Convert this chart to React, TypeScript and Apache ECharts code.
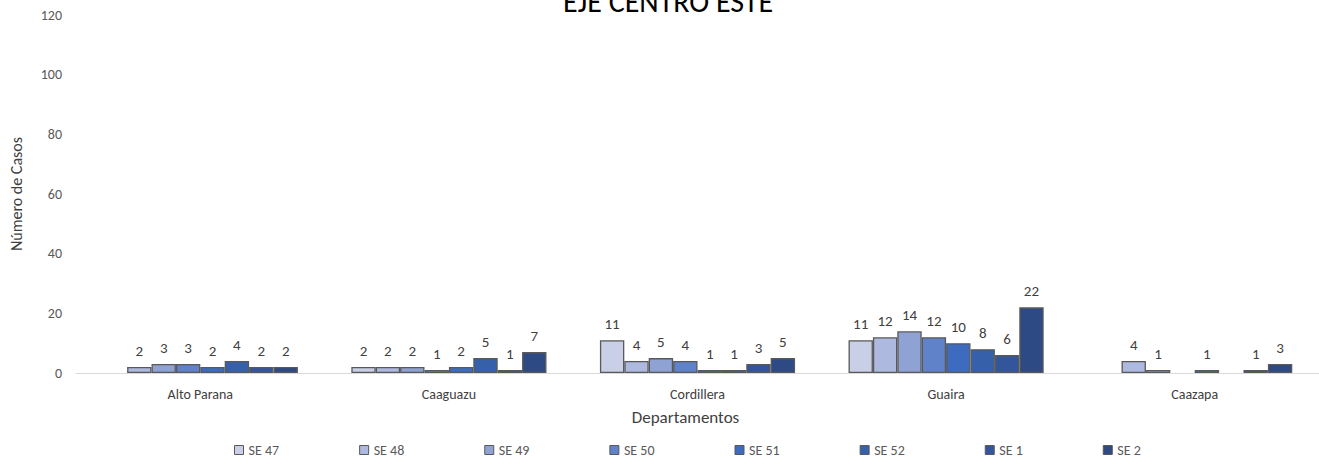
import React, { useEffect, useRef } from "react";
import * as echarts from "echarts";

const categories = ["Alto Parana", "Caaguazu", "Cordillera", "Guaira", "Caazapa"];
const seriesNames = ["SE 47", "SE 48", "SE 49", "SE 50", "SE 51", "SE 52", "SE 1", "SE 2"];
const se47 = [null, 2, 11, 11, null];
const se48 = [2, 2, 4, 12, 4];
const se49 = [3, 2, 5, 14, 1];
const se50 = [3, 1, 4, 12, null];
const se51 = [2, 2, 1, 10, 1];
const se52 = [4, 5, 1, 8, null];
const se1 = [2, 1, 3, 6, 1];
const se2 = [2, 7, 5, 22, 3];
const seriesValues = [se47, se48, se49, se50, se51, se52, se1, se2];
const colors = ["#c8cfe6", "#adb9df", "#8fa2d4", "#5f82c8", "#3c6bbf", "#3760ab", "#33559c", "#2d4a84"];
const yTicks = [0, 20, 40, 60, 80, 100, 120];

const FONT = "Calibri, Carlito, Lato, sans-serif";

export default function App() {
  const ref = useRef<HTMLDivElement>(null);
  useEffect(() => {
    if (!ref.current) return;
    const chart = echarts.init(ref.current, undefined, { renderer: "svg" });
    chart.setOption({
      animation: false,
      backgroundColor: "#ffffff",
      textStyle: { fontFamily: FONT },
      title: {
        text: "EJE CENTRO ESTE",
        left: 558,
        top: -19,
        textStyle: { fontFamily: FONT, fontSize: 30, fontWeight: "normal", color: "#000000" },
      },
      legend: {
        data: seriesNames,
        left: 229,
        top: 437,
        itemWidth: 9,
        itemHeight: 9,
        itemGap: 80,
        icon: "rect",
        textStyle: { fontFamily: FONT, fontSize: 14, color: "#595959", lineHeight: 16 },
        itemStyle: { borderColor: "#595959", borderWidth: 1 },
      },
      grid: { left: 72, right: -9, top: 15, bottom: 85, containLabel: false },
      xAxis: {
        type: "category",
        data: categories,
        name: "Departamentos",
        nameLocation: "middle",
        nameGap: 36,
        nameTextStyle: { fontFamily: FONT, fontSize: 17, color: "#404040", padding: [0, 24, 0, 0] },
        axisLine: { lineStyle: { color: "#d9d9d9", width: 1 } },
        axisTick: { show: false },
        axisLabel: { fontFamily: FONT, fontSize: 14, color: "#404040", margin: 14 },
      },
      yAxis: {
        type: "value",
        min: yTicks[0],
        max: yTicks[yTicks.length - 1],
        interval: 20,
        name: "Número de Casos",
        nameLocation: "middle",
        nameGap: 52,
        nameTextStyle: { fontFamily: FONT, fontSize: 16, color: "#404040" },
        axisLine: { show: false },
        axisTick: { show: false },
        splitLine: { show: false },
        axisLabel: { fontFamily: FONT, fontSize: 14, color: "#595959", margin: 14 },
      },
      series: seriesNames.map((name, i) => ({
        name,
        type: "bar",
        data: seriesValues[i],
        barGap: "0%",
        barCategoryGap: "21.5%",
        itemStyle: { color: colors[i], borderColor: "#595959", borderWidth: 1.3 },
        label: {
          show: true,
          position: "top",
          distance: 9,
          fontFamily: FONT,
          fontSize: 15,
          color: "#404040",
        },
      })),
    });
    return () => chart.dispose();
  }, []);
  return (
    <div
      ref={ref}
      style={{ position: "fixed", left: 0, top: 0, width: 1319, height: 458, background: "#fff" }}
    />
  );
}
